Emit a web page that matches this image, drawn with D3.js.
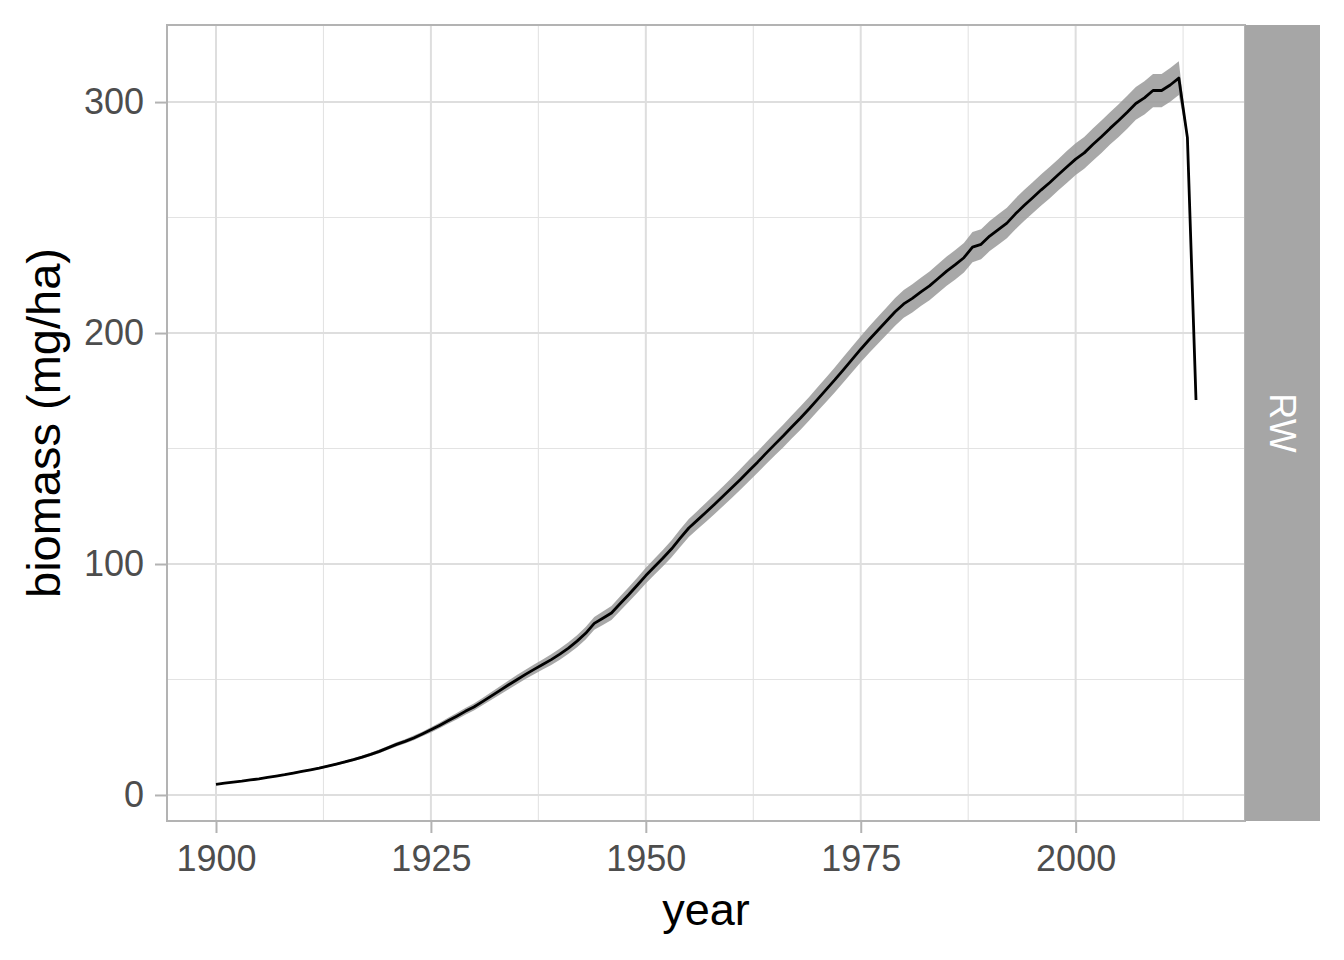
<!DOCTYPE html>
<html>
<head>
<meta charset="utf-8">
<script src="https://cdn.jsdelivr.net/npm/d3@7"></script>
<style>
  html, body { margin: 0; padding: 0; background: #fff; }
  svg { display: block; font-family: "Liberation Sans", Arial, Helvetica, sans-serif; }
</style>
</head>
<body>
<svg id="chart" width="1344" height="960"></svg>
<script>
// yearly mean biomass (mg/ha)
const years = d3.range(1900, 2015);
const biomass = [
  4.6, 5.1, 5.6, 6.0, 6.5, 7.0, 7.6, 8.2, 8.8, 9.5,
  10.2, 10.9, 11.6, 12.5, 13.4, 14.3, 15.3, 16.4, 17.6, 18.9,
  20.4, 21.9, 23.2, 24.7, 26.4, 28.2, 30.1, 32.1, 34.1, 36.2,
  38.1, 40.4, 42.8, 45.2, 47.6, 49.9, 52.2, 54.4, 56.5, 58.6,
  61.0, 63.6, 66.6, 70.0, 74.3, 76.5, 78.8, 82.8, 86.7, 90.8,
  95.0, 98.8, 102.6, 106.6, 111.2, 115.6, 119.0, 122.4, 125.9, 129.4,
  133.0, 136.6, 140.4, 144.1, 148.0, 151.8, 155.5, 159.4, 163.2, 167.2,
  171.4, 175.6, 179.8, 184.2, 188.6, 193.0, 197.2, 201.2, 205.2, 209.2,
  212.6, 215.0, 217.8, 220.4, 223.6, 226.8, 229.6, 232.6, 237.2, 238.4,
  242.0, 244.8, 247.6, 251.6, 255.2, 258.6, 262.0, 265.2, 268.6, 272.0,
  275.3, 278.0, 281.6, 285.0, 288.6, 292.0, 295.6, 299.4, 301.8, 305.0,
  305.0, 307.4, 310.4, 284.6, 171.0
];
// half width of the grey band around the mean
const spread = [
  0.2, 0.2, 0.2, 0.3, 0.3, 0.3, 0.3, 0.3, 0.4, 0.4,
  0.4, 0.4, 0.5, 0.5, 0.5, 0.6, 0.6, 0.7, 0.7, 0.8,
  0.8, 0.9, 0.9, 1.0, 1.0, 1.1, 1.2, 1.3, 1.4, 1.5,
  1.5, 1.6, 1.7, 1.8, 1.9, 2.0, 2.0, 2.1, 2.2, 2.3,
  2.4, 2.5, 2.6, 2.7, 2.8, 2.9, 3.0, 3.1, 3.2, 3.3,
  3.4, 3.5, 3.6, 3.7, 3.8, 3.9, 4.0, 4.1, 4.2, 4.3,
  4.4, 4.5, 4.6, 4.6, 4.7, 4.8, 4.9, 5.0, 5.1, 5.1,
  5.2, 5.3, 5.4, 5.5, 5.6, 5.6, 5.7, 5.8, 5.9, 6.0,
  6.0, 6.1, 6.1, 6.2, 6.3, 6.3, 6.4, 6.4, 6.5, 6.5,
  6.5, 6.6, 6.6, 6.7, 6.7, 6.7, 6.8, 6.8, 6.8, 6.9,
  6.9, 6.9, 7.0, 7.0, 7.0, 7.1, 7.1, 7.1, 7.2, 7.2,
  7.2, 7.3, 7.3, 0.5, 1.2
];
const xTicks = [1900, 1925, 1950, 1975, 2000];
const xMinor = [1912.5, 1937.5, 1962.5, 1987.5, 2012.5];
const yTicks = [0, 100, 200, 300];
const yMinor = [50, 150, 250];
const stripLabel = 'RW';

const panel = { left: 167, top: 25, right: 1245, bottom: 821 };
const stripWidth = 75;

const data = years.map((year, i) => ({
  year,
  mean: biomass[i],
  lo: biomass[i] - spread[i],
  hi: biomass[i] + spread[i],
}));

// ggplot-style 5% expansion
function expand([a, b]) {
  const pad = (b - a) * 0.05;
  return [a - pad, b + pad];
}

const x = d3.scaleLinear()
  .domain(expand(d3.extent(years)))
  .range([panel.left, panel.right]);
const y = d3.scaleLinear()
  .domain(expand([d3.min(data, d => d.lo), d3.max(data, d => d.hi)]))
  .range([panel.bottom, panel.top]);

const svg = d3.select('#chart');

// panel grid
const grid = svg.append('g');
grid.selectAll('.xminor').data(xMinor).enter().append('line')
  .attr('x1', d => x(d)).attr('x2', d => x(d))
  .attr('y1', panel.top).attr('y2', panel.bottom)
  .attr('stroke', '#e3e3e3').attr('stroke-width', 1.1);
grid.selectAll('.yminor').data(yMinor).enter().append('line')
  .attr('x1', panel.left).attr('x2', panel.right)
  .attr('y1', d => y(d)).attr('y2', d => y(d))
  .attr('stroke', '#e3e3e3').attr('stroke-width', 1.1);
grid.selectAll('.xmajor').data(xTicks).enter().append('line')
  .attr('x1', d => x(d)).attr('x2', d => x(d))
  .attr('y1', panel.top).attr('y2', panel.bottom)
  .attr('stroke', '#dedede').attr('stroke-width', 2);
grid.selectAll('.ymajor').data(yTicks).enter().append('line')
  .attr('x1', panel.left).attr('x2', panel.right)
  .attr('y1', d => y(d)).attr('y2', d => y(d))
  .attr('stroke', '#dedede').attr('stroke-width', 2);

// ribbon and line
const area = d3.area()
  .x(d => x(d.year))
  .y0(d => y(d.lo))
  .y1(d => y(d.hi));
const line = d3.line()
  .x(d => x(d.year))
  .y(d => y(d.mean));

svg.append('path')
  .attr('d', area(data))
  .attr('fill', '#999999')
  .attr('fill-opacity', 0.85);
svg.append('path')
  .attr('d', line(data))
  .attr('fill', 'none')
  .attr('stroke', '#000')
  .attr('stroke-width', 2.8)
  .attr('stroke-linejoin', 'round');

// panel border
svg.append('rect')
  .attr('x', panel.left).attr('y', panel.top)
  .attr('width', panel.right - panel.left)
  .attr('height', panel.bottom - panel.top)
  .attr('fill', 'none')
  .attr('stroke', '#b3b3b3')
  .attr('stroke-width', 2);

// facet strip
svg.append('rect')
  .attr('x', panel.right).attr('y', panel.top)
  .attr('width', stripWidth)
  .attr('height', panel.bottom - panel.top)
  .attr('fill', '#a6a6a6');
svg.append('text')
  .attr('transform', `translate(${panel.right + stripWidth / 2}, ${(panel.top + panel.bottom) / 2}) rotate(90)`)
  .attr('text-anchor', 'middle')
  .attr('dy', '0.35em')
  .attr('fill', '#fff')
  .attr('font-size', 36)
  .text(stripLabel);

// axes
const xAxis = svg.append('g')
  .attr('transform', `translate(0, ${panel.bottom})`)
  .call(d3.axisBottom(x).tickValues(xTicks).tickFormat(d3.format('d')).tickSize(12).tickPadding(12));
const yAxis = svg.append('g')
  .attr('transform', `translate(${panel.left}, 0)`)
  .call(d3.axisLeft(y).tickValues(yTicks).tickSize(12).tickPadding(11));

[xAxis, yAxis].forEach(g => {
  g.select('.domain').remove();
  g.selectAll('.tick line').attr('stroke', '#b3b3b3').attr('stroke-width', 2);
  g.selectAll('.tick text')
    .attr('fill', '#4d4d4d')
    .attr('font-size', 36)
    .attr('font-family', '"Liberation Sans", Arial, sans-serif');
});

// axis titles
svg.append('text')
  .attr('x', (panel.left + panel.right) / 2)
  .attr('y', 925)
  .attr('text-anchor', 'middle')
  .attr('font-size', 45)
  .attr('fill', '#000')
  .text('year');
svg.append('text')
  .attr('transform', `translate(60, ${(panel.top + panel.bottom) / 2}) rotate(-90)`)
  .attr('text-anchor', 'middle')
  .attr('font-size', 47)
  .attr('fill', '#000')
  .text('biomass (mg/ha)');
</script>
</body>
</html>
